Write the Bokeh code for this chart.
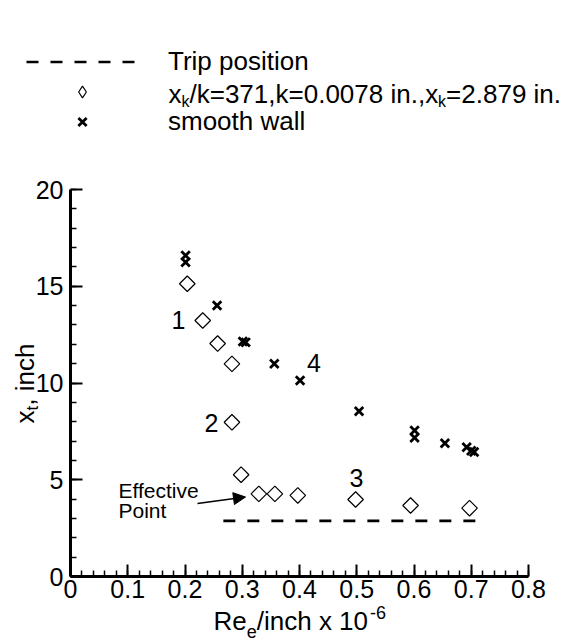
import numpy as np
from bokeh.plotting import figure
from bokeh.models import (Range1d, FixedTicker, Label, Arrow, NormalHead,
                          Legend, LegendItem, LinearAxis)
from bokeh.core.properties import value
from bokeh.embed import file_html
from bokeh.resources import INLINE

# ---------------- data ----------------
rough_re = [0.204, 0.231, 0.257, 0.282, 0.282, 0.298, 0.329, 0.357, 0.397, 0.498, 0.594, 0.697]
rough_xt = [15.13, 13.23, 12.04, 10.99, 7.97, 5.26, 4.27, 4.27, 4.19, 3.98, 3.67, 3.53]

smooth_re = [0.201, 0.201, 0.256, 0.301, 0.306, 0.356, 0.401, 0.504, 0.601, 0.601, 0.654, 0.692, 0.700, 0.705]
smooth_xt = [16.59, 16.24, 14.00, 12.15, 12.10, 10.99, 10.13, 8.54, 7.55, 7.17, 6.89, 6.68, 6.50, 6.43]

trip_re = [0.267, 0.712]
trip_xt = [2.879, 2.879]

x_ticks = [0.0, 0.1, 0.2, 0.3, 0.4, 0.5, 0.6, 0.7, 0.8]
x_tick_labels = ["0", "0.1", "0.2", "0.3", "0.4", "0.5", "0.6", "0.7", "0.8"]
y_ticks = [0, 5, 10, 15, 20]
y_tick_labels = ["0", "5", "10", "15", "20"]

point_tags = ["1", "2", "3", "4"]

FONT = "Liberation Sans"

# ---------------- layout helpers (canvas pixels -> data) ----------------
W_FIG, H_FIG = 563, 642
SX = 572.5      # px per unit (x)
SY = 19.35      # px per unit (y)
X0PX = 70       # canvas x of Re = 0
Y0PX = 576      # canvas y of x_t = 0

def dx(px):
    return (px - X0PX) / SX

def dy(py):
    return (Y0PX - py) / SY

CW = {' ': 278, ',': 278, '-': 333, '.': 278, '/': 278, '=': 584, 'R': 722, 'e': 556,
      'i': 222, 'n': 556, 'c': 500, 'h': 556, 'x': 500, 'k': 500, 't': 278}

def tw(s, size):
    return sum(CW.get(c, 556) for c in s) * size / 1000.0

p = figure(width=W_FIG, height=H_FIG, min_border=0,
           x_range=Range1d(dx(0), dx(W_FIG)), y_range=Range1d(dy(H_FIG), dy(0)),
           x_axis_location=None, y_axis_location=None,
           output_backend="svg", toolbar_location=None)
p.grid.visible = False
p.outline_line_color = None
p.background_fill_color = "white"
p.border_fill_color = "white"

xaxis = LinearAxis(fixed_location=0, bounds=(0, 0.8),
                   ticker=FixedTicker(ticks=x_ticks,
                                      minor_ticks=[round(v, 2) for v in np.arange(0, 0.801, 0.02)]),
                   major_label_overrides={t: l for t, l in zip(x_ticks, x_tick_labels)})
yaxis = LinearAxis(fixed_location=0, bounds=(0, 20),
                   ticker=FixedTicker(ticks=y_ticks, minor_ticks=list(range(0, 21))),
                   major_label_overrides={t: l for t, l in zip(y_ticks, y_tick_labels)})
for ax in (xaxis, yaxis):
    ax.axis_line_width = 3
    ax.axis_line_color = "black"
    ax.major_tick_in = 12
    ax.major_tick_out = 0
    ax.minor_tick_in = 6
    ax.minor_tick_out = 0
    ax.major_tick_line_width = 2
    ax.minor_tick_line_width = 1.5
    ax.major_tick_line_color = "black"
    ax.minor_tick_line_color = "black"
    ax.major_label_text_font = FONT
    ax.major_label_text_font_size = "25px"
    ax.major_label_text_color = "black"
xaxis.major_label_standoff = 3
yaxis.major_label_standoff = 7
p.add_layout(xaxis, "below")
p.add_layout(yaxis, "left")

# ---------------- glyphs ----------------
r_trip = p.line(trip_re, trip_xt, line_color="black", line_width=2.7, line_dash="12 12")
r_rough = p.scatter(rough_re, rough_xt, marker="square", angle=np.pi / 4, size=11,
                    fill_color=None, line_color="black", line_width=1.2)
r_smooth = p.scatter(smooth_re, smooth_xt, marker="x", size=12,
                     line_color="black", line_width=2.8)
# legend key for the diamond series (legend keys are drawn unrotated, so use a diamond marker)
r_rough_key = p.scatter(x=[np.nan], y=[np.nan], marker="diamond", size=11,
                        fill_color=None, line_color="black", line_width=1.2)

# ---------------- legend ----------------
ROW = 29
LEG_TOP = 64 - ROW / 2
legend = Legend(items=[LegendItem(label=value("Trip position"), renderers=[r_trip]),
                       LegendItem(label=value(""), renderers=[r_rough_key]),
                       LegendItem(label=value("smooth wall"), renderers=[r_smooth])],
                location=(26, H_FIG - (LEG_TOP + 3 * ROW)),
                padding=0, margin=0, spacing=0,
                glyph_width=112, glyph_height=ROW, label_height=ROW, label_standoff=30,
                label_text_font=FONT, label_text_font_size="26px",
                label_text_color="black",
                border_line_alpha=0, background_fill_alpha=0)
p.add_layout(legend)

def lab(px, py, text, size, align="left", angle=0.0):
    # py is the vertical centre of the text
    p.add_layout(Label(x=dx(px), y=dy(py), text=text, text_font=FONT,
                       text_font_size=f"{size}px", text_align=align,
                       text_baseline="middle", angle=angle, text_color="black"))

# legend row 2 text with subscripts
x0 = 168
row2 = LEG_TOP + 1.5 * ROW
for txt, sz, off in [("x", 26, 0), ("k", 16, 8), ("/k=371,k=0.0078 in.,x", 26, 0),
                     ("k", 16, 8), ("=2.879 in.", 26, 0)]:
    lab(x0, row2 + off, txt, sz)
    x0 += tw(txt, sz)

# x axis title: Re_e/inch x 10^-6
x0 = 213
for txt, sz, off, gap in [("Re", 26, 0, 0), ("e", 18, 11, 0), ("/inch x 10", 26, 0, 0), ("-6", 18, -8, 2)]:
    x0 += gap
    lab(x0, 620 + off, txt, sz)
    x0 += tw(txt, sz)

# y axis title: x_t, inch (rotated)
y0 = 423
for txt, sz, off in [("x", 26, 0), ("t", 17, 8), (", inch", 26, 0)]:
    lab(24 + off, y0, txt, sz, angle=np.pi / 2)
    y0 -= tw(txt, sz)

# point tags
for tag, (px, py) in zip(point_tags, [(178, 319.5), (211, 422), (356, 477), (313.5, 362)]):
    lab(px, py, tag, 25, align="center")

# effective point note
lab(118, 489.5, "Effective", 21)
lab(118, 510, "Point", 21)
p.add_layout(Arrow(x_start=dx(197), y_start=dy(503), x_end=dx(245), y_end=dy(496.5),
                   line_color="black", line_width=1.5,
                   end=NormalHead(size=12, fill_color="black", line_color="black", line_width=1)))

open("out.html", "w").write(file_html(p, INLINE))
